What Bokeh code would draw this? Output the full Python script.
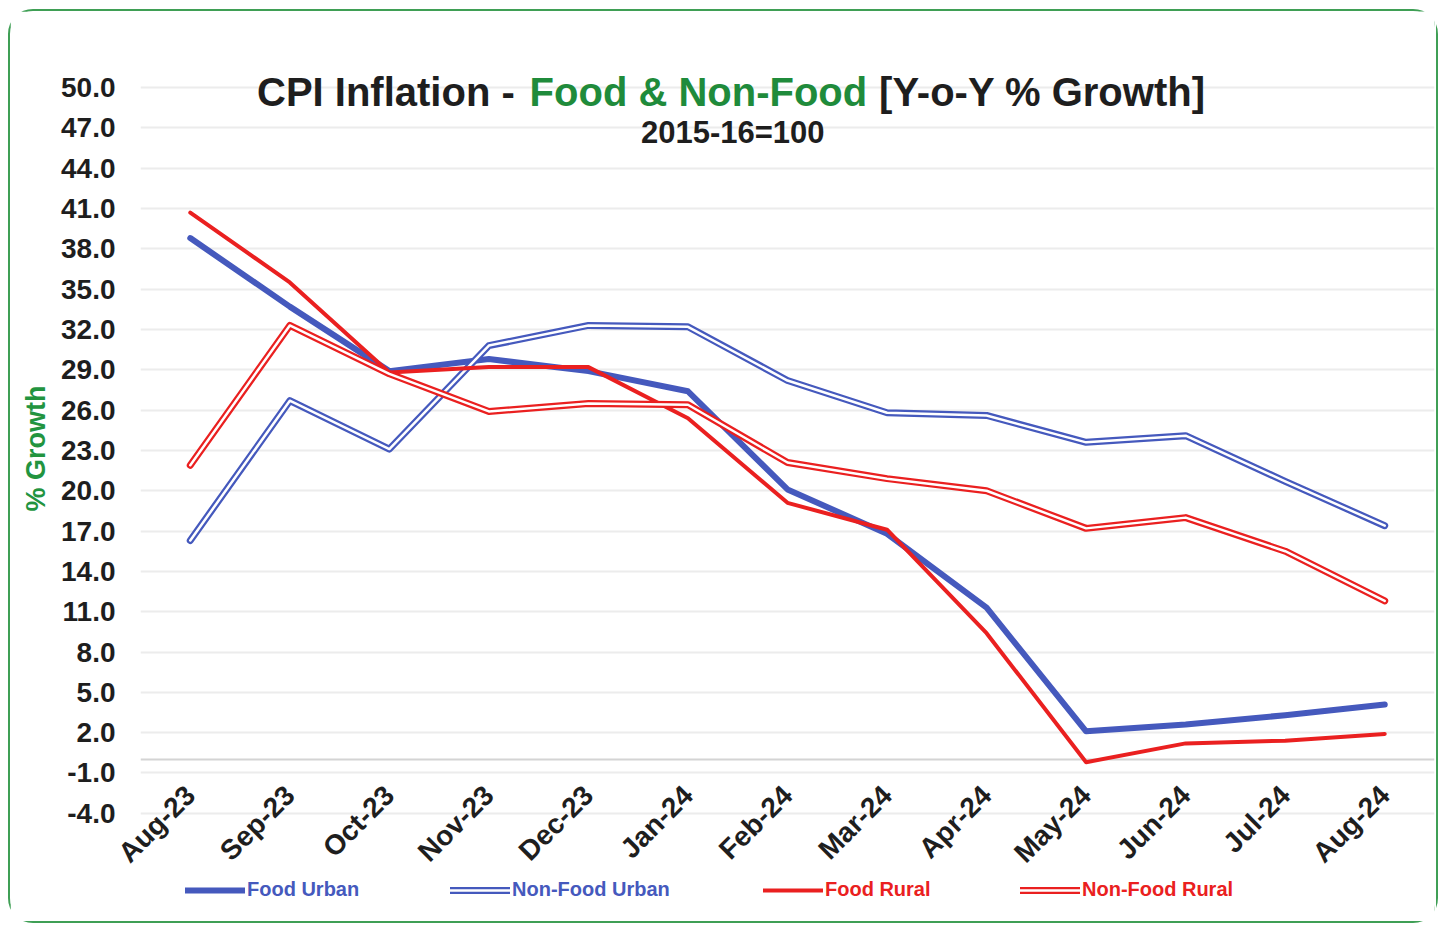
import math
from bokeh.plotting import figure
from bokeh.models import (FactorRange, Range1d, FixedTicker, NumeralTickFormatter,
                          Label, Legend, LegendItem, Span, Title)
from bokeh.embed import file_html
from bokeh.resources import INLINE

# ---------------- data ----------------
months = ["Aug-23", "Sep-23", "Oct-23", "Nov-23", "Dec-23", "Jan-24", "Feb-24",
          "Mar-24", "Apr-24", "May-24", "Jun-24", "Jul-24", "Aug-24"]
food_urban = [38.8, 33.7, 28.9, 29.8, 28.9, 27.4, 20.1, 16.8, 11.3, 2.1, 2.6, 3.3, 4.1]
nonfood_urban = [16.3, 26.7, 23.1, 30.8, 32.3, 32.2, 28.2, 25.8, 25.6, 23.6, 24.1, 20.7, 17.4]
food_rural = [40.7, 35.5, 28.8, 29.2, 29.2, 25.4, 19.1, 17.1, 9.4, -0.2, 1.2, 1.4, 1.9]
nonfood_rural = [21.9, 32.3, 28.7, 25.9, 26.5, 26.4, 22.1, 20.9, 20.0, 17.2, 18.0, 15.5, 11.8]
y_ticks = [-4, -1, 2, 5, 8, 11, 14, 17, 20, 23, 26, 29, 32, 35, 38, 41, 44, 47, 50]
series_names = ["Food Urban", "Non-Food Urban", "Food Rural", "Non-Food Rural"]

BLUE = "#4559bd"
RED = "#ea2020"
GREEN = "#1f8b3b"
DARK = "#1e1e1e"
FONT = "Liberation Sans"

# the plotting frame spans the whole canvas height so that title and legend
# (drawn inside it) are not clipped; ticks/grid only cover -4 .. 50
p = figure(x_range=FactorRange(*months, range_padding=0),
           y_range=Range1d(-12.35, 55.66),
           width=1430, height=914, output_backend="svg", toolbar_location=None,
           min_border_left=130, min_border_right=6, min_border_top=0,
           min_border_bottom=0)
p.styles = {"border": "2px solid #3f9f55", "border-radius": "25px",
            "margin-left": "8px", "margin-top": "9px"}
p.outline_line_color = None
p.background_fill_color = "white"
p.border_fill_color = "white"

# grid
p.xgrid.grid_line_color = None
p.ygrid.ticker = FixedTicker(ticks=y_ticks)
p.ygrid.grid_line_color = "#ececec"
p.ygrid.grid_line_width = 2

# axes
p.yaxis.ticker = FixedTicker(ticks=y_ticks)
p.yaxis.formatter = NumeralTickFormatter(format="0.0")
p.yaxis.axis_line_color = None
p.yaxis.major_tick_line_color = None
p.yaxis.minor_tick_line_color = None
p.yaxis.major_tick_out = 0
p.yaxis.major_tick_in = 0
p.yaxis.major_label_standoff = 25
p.yaxis.major_label_text_font = FONT
p.yaxis.major_label_text_font_size = "28px"
p.yaxis.major_label_text_font_style = "bold"
p.yaxis.major_label_text_color = DARK

# y-axis title, placed along the -4..50 part of the frame
p.add_layout(Title(text="% Growth", align="left", offset=414, standoff=16,
                   text_font=FONT, text_font_size="27px", text_font_style="bold",
                   text_color="#22943f"), "left")

p.xaxis.axis_line_color = None
p.xaxis.major_tick_line_color = None
p.xaxis.major_tick_out = 0
p.xaxis.major_tick_in = 0
p.xaxis.major_label_orientation = math.pi / 4
p.xaxis.major_label_standoff = -135
p.xaxis.major_label_text_font = FONT
p.xaxis.major_label_text_font_size = "28px"
p.xaxis.major_label_text_font_style = "bold"
p.xaxis.major_label_text_color = DARK

# zero line
p.add_layout(Span(location=0, dimension="width", line_color="#d4d4d4",
                  line_width=2, level="underlay"))

common = dict(line_join="round", line_cap="round")
r_fu = p.line(months, food_urban, line_color=BLUE, line_width=6, **common)
r_nfu_a = p.line(months, nonfood_urban, line_color=BLUE, line_width=7, **common)
r_nfu_b = p.line(months, nonfood_urban, line_color="white", line_width=2.5, **common)
r_fr = p.line(months, food_rural, line_color=RED, line_width=4, **common)
r_nfr_a = p.line(months, nonfood_rural, line_color=RED, line_width=7, **common)
r_nfr_b = p.line(months, nonfood_rural, line_color="white", line_width=2.5, **common)

legend_specs = [
    (series_names[0], [r_fu], BLUE, 45),
    (series_names[1], [r_nfu_a, r_nfu_b], BLUE, 310),
    (series_names[2], [r_fr], RED, 623),
    (series_names[3], [r_nfr_a, r_nfr_b], RED, 880),
]
for name, rends, col, xloc in legend_specs:
    lg = Legend(items=[LegendItem(label=name, renderers=rends)],
                location=(xloc, 24), orientation="horizontal",
                glyph_width=60, glyph_height=20, label_standoff=2,
                label_text_color=col, label_text_font=FONT,
                label_text_font_size="20px", label_text_font_style="bold",
                padding=0, margin=0, spacing=0,
                border_line_color=None, background_fill_alpha=0)
    p.add_layout(lg)

# title (three coloured parts) and subtitle
tkw = dict(y=49.7, text_baseline="middle", text_font=FONT,
           text_font_size="40px", text_font_style="bold")
p.add_layout(Label(x=3.76, text="CPI Inflation -", text_align="right",
                   text_color=DARK, **tkw))
p.add_layout(Label(x=5.605, text="Food & Non-Food", text_align="center",
                   text_color=GREEN, **tkw))
p.add_layout(Label(x=7.42, text="[Y-o-Y % Growth]", text_align="left",
                   text_color=DARK, **tkw))
p.add_layout(Label(x=5.95, y=46.65, text="2015-16=100", text_align="center",
                   text_baseline="middle", text_font=FONT, text_font_size="31px",
                   text_font_style="bold", text_color=DARK))

open("out.html", "w").write(file_html(p, INLINE))
